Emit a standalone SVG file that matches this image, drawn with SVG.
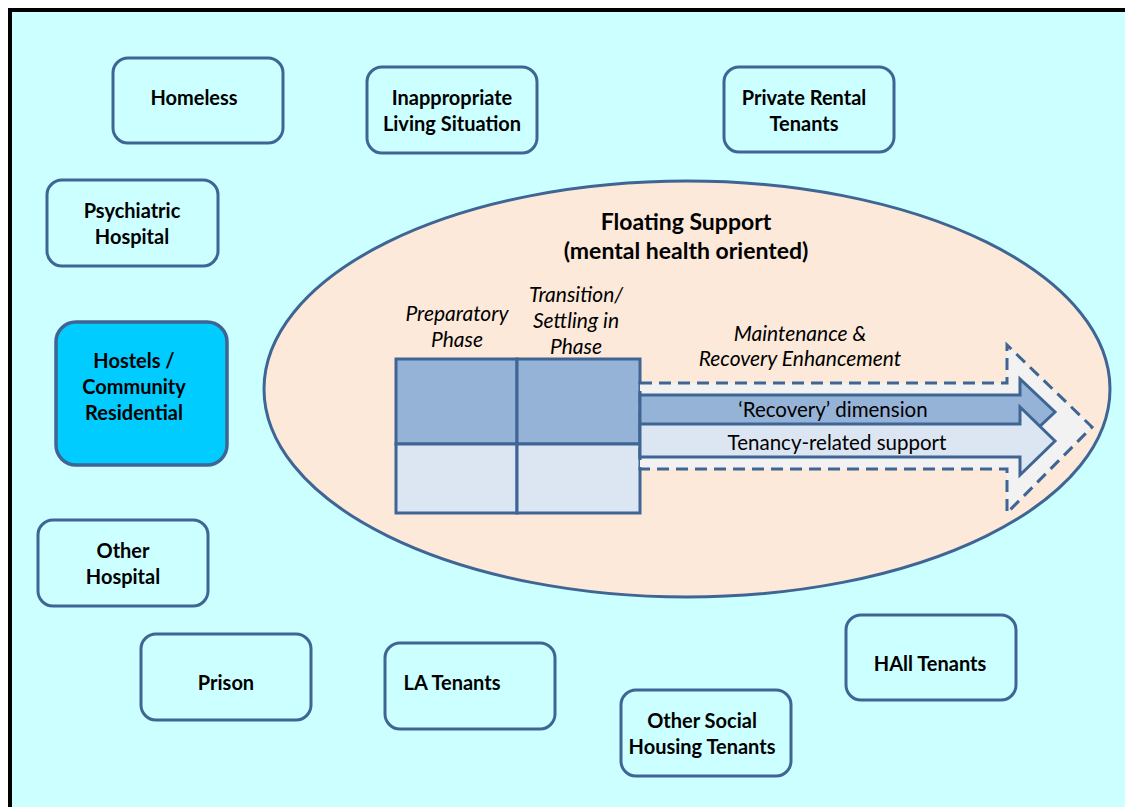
<svg xmlns="http://www.w3.org/2000/svg" width="1125" height="807" viewBox="0 0 1125 807">
<defs>
<style>
.node rect{fill:#CCFFFF;stroke:#3F6594;stroke-width:3}
.lbl{font-family:Lato,"Liberation Sans",sans-serif;font-weight:bold;font-size:20px;fill:#000;text-anchor:middle}
.it{font-family:Lato,"Liberation Sans",sans-serif;font-style:italic;font-size:21px;fill:#000;text-anchor:middle}
.rg{font-family:Lato,"Liberation Sans",sans-serif;font-size:20.5px;fill:#000;text-anchor:middle}
.ttl{font-family:Lato,"Liberation Sans",sans-serif;font-weight:bold;font-size:23px;fill:#000;text-anchor:middle}
</style>
</defs>
<rect x="0" y="0" width="1125" height="807" fill="#FFFFFF"/>
<rect x="10" y="10" width="1130" height="820" fill="#CCFFFF" stroke="#000" stroke-width="4"/>

<g id="floating-support">
<ellipse cx="687" cy="389" rx="423" ry="208" fill="#FDE9D9" stroke="#3F6594" stroke-width="3"/>
<text class="ttl" x="686" y="230">Floating Support</text>
<text class="ttl" x="686" y="259">(mental health oriented)</text>
</g>

<g id="phase-grid">
<rect x="396" y="359" width="121" height="85" fill="#95B3D7" stroke="#3F6594" stroke-width="3"/>
<rect x="517" y="359" width="123" height="85" fill="#95B3D7" stroke="#3F6594" stroke-width="3"/>
<rect x="396" y="444" width="121" height="69" fill="#DCE6F2" stroke="#3F6594" stroke-width="3"/>
<rect x="517" y="444" width="123" height="69" fill="#DCE6F2" stroke="#3F6594" stroke-width="3"/>
<text class="it" x="457" y="321">Preparatory</text>
<text class="it" x="457" y="347">Phase</text>
<text class="it" x="576" y="302">Transition/</text>
<text class="it" x="576" y="328">Settling in</text>
<text class="it" x="576" y="354">Phase</text>
</g>

<g id="connectors">
<path d="M640,383 L1007,383 L1007,345 L1092,427 L1007,513 L1007,469 L640,469 Z" fill="#F2F2F2" stroke="#3F6594" stroke-width="3" stroke-dasharray="12,7"/>
<path d="M640,395 L1020,395 L1020,379 L1055,412 L1020,445 L1020,428 L640,428 Z" fill="#95B3D7" stroke="#3F6594" stroke-width="3"/>
<path d="M640,424 L1020,424 L1020,407 L1055,441 L1020,475 L1020,457 L640,457 Z" fill="#DCE6F2" stroke="#3F6594" stroke-width="3"/>
<text class="it" x="800" y="341">Maintenance &amp;</text>
<text class="it" x="800" y="366">Recovery Enhancement</text>
<text class="rg" x="833" y="417">‘Recovery’ dimension</text>
<text class="rg" x="837" y="450">Tenancy-related support</text>
</g>

<g id="homeless" class="node"><rect x="113" y="58" width="170" height="85" rx="15"/><text class="lbl" x="194" y="105">Homeless</text></g>
<g id="inappropriate" class="node"><rect x="367" y="67" width="170" height="86" rx="15"/><text class="lbl" x="452" y="105">Inappropriate</text><text class="lbl" x="452" y="131">Living Situation</text></g>
<g id="private-rental" class="node"><rect x="724" y="67" width="170" height="85" rx="15"/><text class="lbl" x="804" y="105">Private Rental</text><text class="lbl" x="804" y="131">Tenants</text></g>
<g id="psychiatric" class="node"><rect x="47" y="180" width="171" height="86" rx="15"/><text class="lbl" x="132" y="218">Psychiatric</text><text class="lbl" x="132" y="244">Hospital</text></g>
<g id="hostels" class="node"><rect x="56" y="322" width="171" height="143" rx="20" style="fill:#00CCFF;stroke-width:3.5"/><text class="lbl" x="134" y="368">Hostels /</text><text class="lbl" x="134" y="394">Community</text><text class="lbl" x="134" y="420">Residential</text></g>
<g id="other-hospital" class="node"><rect x="38" y="520" width="170" height="86" rx="15"/><text class="lbl" x="123" y="558">Other</text><text class="lbl" x="123" y="584">Hospital</text></g>
<g id="prison" class="node"><rect x="141" y="634" width="170" height="86" rx="15"/><text class="lbl" x="226" y="690">Prison</text></g>
<g id="la-tenants" class="node"><rect x="385" y="643" width="170" height="86" rx="15"/><text class="lbl" x="452" y="690">LA Tenants</text></g>
<g id="other-social" class="node"><rect x="621" y="690" width="170" height="86" rx="15"/><text class="lbl" x="702" y="728">Other Social</text><text class="lbl" x="702" y="754">Housing Tenants</text></g>
<g id="hall-tenants" class="node"><rect x="846" y="615" width="170" height="85" rx="15"/><text class="lbl" x="930" y="671">HAll Tenants</text></g>
</svg>
